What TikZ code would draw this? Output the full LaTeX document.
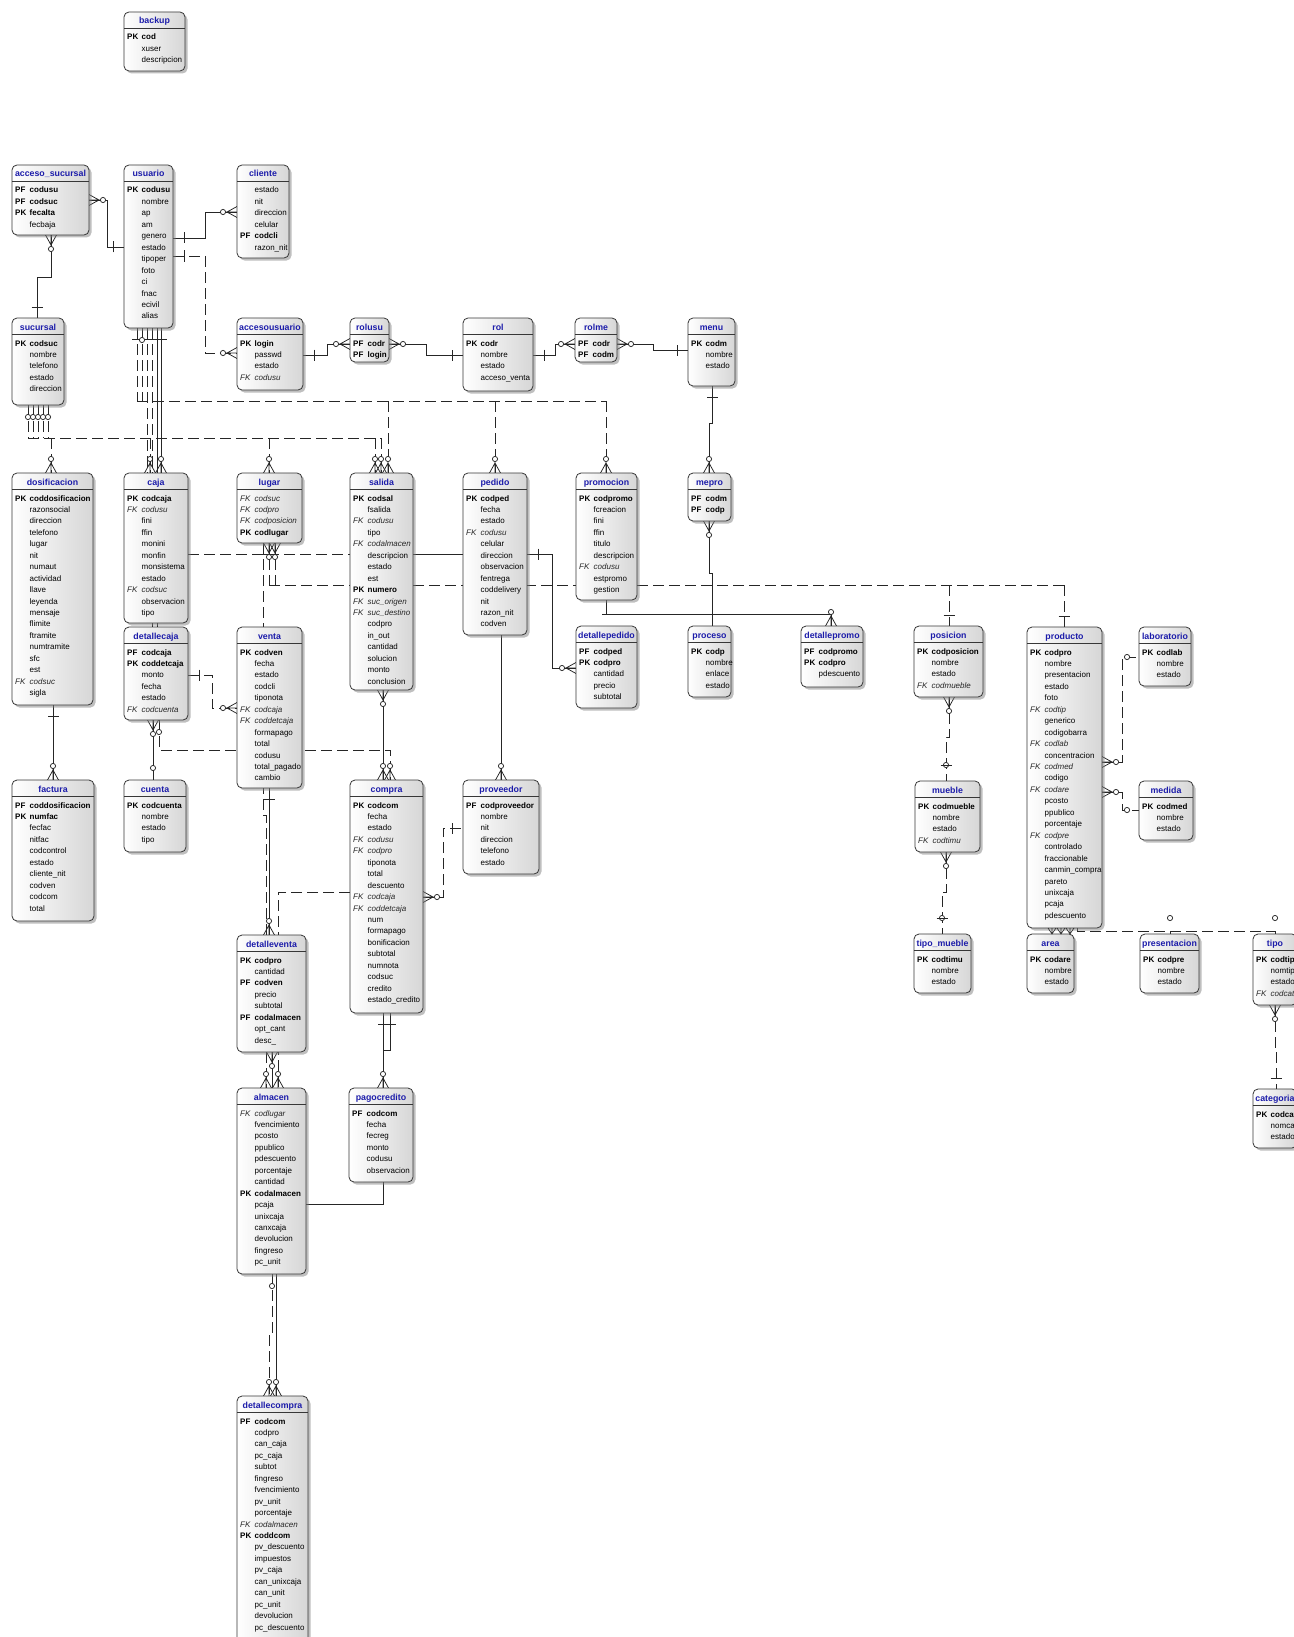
\documentclass[tikz,border=0pt]{standalone}
\usepackage{fontspec}
\setmainfont{Liberation Sans}
\usetikzlibrary{calc,shadows}
\pgfdeclarelayer{back}\pgfdeclarelayer{bg}
\pgfsetlayers{back,bg,main}
\definecolor{hdr}{RGB}{28,28,170}
\definecolor{bx}{RGB}{55,55,55}
\newcommand\rowf{\fontsize{8}{9.6}\selectfont}
\newcommand\hdrf{\fontsize{8.8}{10}\selectfont\bfseries}
\def\ktPK{PK}\def\ktPF{PF}\def\ktFK{FK}\def\ktN{}
\tikzset{
  x=1pt, y=-1pt,
  conn/.style={line width=0.75pt, draw=black!85},
  dsh/.style={conn, dash pattern=on 11pt off 5pt},
  entbox/.style={draw=bx, line width=0.8pt, rounded corners=5pt, left color=white, right color=black!16,
     drop shadow={shadow xshift=2.5pt, shadow yshift=-2.5pt, fill=black!50, opacity=0.5}, inner sep=0pt, outer sep=0pt},
  sepline/.style={draw=bx, line width=0.7pt},
  ttl/.style={font=\hdrf, text=hdr, anchor=base, inner sep=0pt},
  k-PK/.style={font=\rowf\bfseries},
  k-PF/.style={font=\rowf\bfseries},
  k-FK/.style={font=\rowf\itshape, text=black!85},
  k-N/.style={font=\rowf},
  rowtxt/.style={anchor=base west, inner sep=0pt},
  crwo/.pic={\draw[conn] (0,-5.5)--(10,0)--(0,5.5) (0,0)--(11.4,0); \draw[conn, fill=white] (14,0) circle[radius=2.6];},
  crw/.pic={\draw[conn] (0,-5.5)--(10,0)--(0,5.5) (0,0)--(10,0);},
  br/.pic={\draw[conn] (11,-5.5)--(11,5.5);},
  zo/.pic={\draw[conn, fill=white] (12,0) circle[radius=2.6];},
  zoh/.pic={\draw[conn, fill=white] (16,0) circle[radius=2.6];},
  zb/.pic={\draw[conn, fill=white] (16,0) circle[radius=2.6]; \draw[conn] (16,-5.5)--(16,5.5);},
}
\newcommand\dec[3]{\pic[rotate=#1] at #2 {#3};}
\newcommand\ent[7]{%
  \pgfmathsetmacro\eW{#4-#2}\pgfmathsetmacro\eH{#5-#3}%
  \node[entbox, minimum width=\eW pt, minimum height=\eH pt] (#1) at ({(#2+#4)/2},{(#3+#5)/2}) {};
  \node[ttl] (#1-t) at ({(#2+#4)/2},#3+12) {#6};
  \draw[sepline] ($(#1.north west)+(0,16)$) -- ($(#1.north east)+(0,16)$);
  \foreach \kk/\nm [count=\i] in {#7} {
    \pgfmathsetmacro\yy{#3+28+(\i-1)*11.45}
    \node[rowtxt, k-\kk] (#1-k\i) at (#2+3,\yy) {\csname kt\kk\endcsname};
    \node[rowtxt, k-\kk] (#1-r\i) at (#2+17.5,\yy) {\nm};
  }
}
\begin{document}
\begin{tikzpicture}
\useasboundingbox (0,0) rectangle (1293,1637);
\begin{pgfonlayer}{back}\fill[white] (0,0) rectangle (1293,1637);\end{pgfonlayer}

\ent{backup}{124}{12}{185}{71}{backup}{PK/cod, N/xuser, N/descripcion}
\ent{accesosuc}{12}{165}{89}{235}{acceso\_sucursal}{PF/codusu, PF/codsuc, PK/fecalta, N/fecbaja}
\ent{usuario}{124}{165}{173}{328}{usuario}{PK/codusu, N/nombre, N/ap, N/am, N/genero, N/estado, N/tipoper, N/foto, N/ci, N/fnac, N/ecivil, N/alias}
\ent{cliente}{237}{165}{289}{258}{cliente}{N/estado, N/nit, N/direccion, N/celular, PF/codcli, N/razon\_nit}
\ent{sucursal}{12}{318}{64}{405}{sucursal}{PK/codsuc, N/nombre, N/telefono, N/estado, N/direccion}
\ent{accesousuario}{237}{318}{303}{390}{accesousuario}{PK/login, N/passwd, N/estado, FK/codusu}
\ent{rolusu}{350}{318}{389}{362}{rolusu}{PF/codr, PF/login}
\ent{rol}{463}{318}{533}{391}{rol}{PK/codr, N/nombre, N/estado, N/acceso\_venta}
\ent{rolme}{575}{318}{617}{362}{rolme}{PF/codr, PF/codm}
\ent{menu}{688}{318}{735}{386}{menu}{PK/codm, N/nombre, N/estado}
\ent{dosificacion}{12}{473}{93}{705}{dosificacion}{PK/coddosificacion, N/razonsocial, N/direccion, N/telefono, N/lugar, N/nit, N/numaut, N/actividad, N/llave, N/leyenda, N/mensaje, N/flimite, N/ftramite, N/numtramite, N/sfc, N/est, FK/codsuc, N/sigla}
\ent{caja}{124}{473}{188}{623}{caja}{PK/codcaja, FK/codusu, N/fini, N/ffin, N/monini, N/monfin, N/monsistema, N/estado, FK/codsuc, N/observacion, N/tipo}
\ent{lugar}{237}{473}{302}{543}{lugar}{FK/codsuc, FK/codpro, FK/codposicion, PK/codlugar}
\ent{salida}{350}{473}{413}{690}{salida}{PK/codsal, N/fsalida, FK/codusu, N/tipo, FK/codalmacen, N/descripcion, N/estado, N/est, PK/numero, FK/suc\_origen, FK/suc\_destino, N/codpro, N/in\_out, N/cantidad, N/solucion, N/monto, N/conclusion}
\ent{pedido}{463}{473}{527}{635}{pedido}{PK/codped, N/fecha, N/estado, FK/codusu, N/celular, N/direccion, N/observacion, N/fentrega, N/coddelivery, N/nit, N/razon\_nit, N/codven}
\ent{promocion}{576}{473}{637}{600}{promocion}{PK/codpromo, N/fcreacion, N/fini, N/ffin, N/titulo, N/descripcion, FK/codusu, N/estpromo, N/gestion}
\ent{mepro}{688}{473}{731}{521}{mepro}{PF/codm, PF/codp}
\ent{detallecaja}{124}{627}{188}{720}{detallecaja}{PF/codcaja, PK/coddetcaja, N/monto, N/fecha, N/estado, FK/codcuenta}
\ent{venta}{237}{627}{302}{788}{venta}{PK/codven, N/fecha, N/estado, N/codcli, N/tiponota, FK/codcaja, FK/coddetcaja, N/formapago, N/total, N/codusu, N/total\_pagado, N/cambio}
\ent{detallepedido}{576}{626}{637}{708}{detallepedido}{PF/codped, PK/codpro, N/cantidad, N/precio, N/subtotal}
\ent{proceso}{688}{626}{731}{697}{proceso}{PK/codp, N/nombre, N/enlace, N/estado}
\ent{detallepromo}{801}{626}{863}{687}{detallepromo}{PF/codpromo, PK/codpro, N/pdescuento}
\ent{posicion}{914}{626}{983}{697}{posicion}{PK/codposicion, N/nombre, N/estado, FK/codmueble}
\ent{producto}{1027}{627}{1102}{928}{producto}{PK/codpro, N/nombre, N/presentacion, N/estado, N/foto, FK/codtip, N/generico, N/codigobarra, FK/codlab, N/concentracion, FK/codmed, N/codigo, FK/codare, N/pcosto, N/ppublico, N/porcentaje, FK/codpre, N/controlado, N/fraccionable, N/canmin\_compra, N/pareto, N/unixcaja, N/pcaja, N/pdescuento}
\ent{laboratorio}{1139}{627}{1191}{686}{laboratorio}{PK/codlab, N/nombre, N/estado}
\ent{medida}{1139}{781}{1193}{840}{medida}{PK/codmed, N/nombre, N/estado}
\ent{factura}{12}{780}{94}{921}{factura}{PF/coddosificacion, PK/numfac, N/fecfac, N/nitfac, N/codcontrol, N/estado, N/cliente\_nit, N/codven, N/codcom, N/total}
\ent{cuenta}{124}{780}{186}{852}{cuenta}{PK/codcuenta, N/nombre, N/estado, N/tipo}
\ent{compra}{350}{780}{423}{1013}{compra}{PK/codcom, N/fecha, N/estado, FK/codusu, FK/codpro, N/tiponota, N/total, N/descuento, FK/codcaja, FK/coddetcaja, N/num, N/formapago, N/bonificacion, N/subtotal, N/numnota, N/codsuc, N/credito, N/estado\_credito}
\ent{proveedor}{463}{780}{539}{874}{proveedor}{PF/codproveedor, N/nombre, N/nit, N/direccion, N/telefono, N/estado}
\ent{mueble}{915}{781}{980}{852}{mueble}{PK/codmueble, N/nombre, N/estado, FK/codtimu}
\ent{tipomueble}{914}{934}{971}{993}{tipo\_mueble}{PK/codtimu, N/nombre, N/estado}
\ent{area}{1027}{934}{1074}{993}{area}{PK/codare, N/nombre, N/estado}
\ent{presentacion}{1140}{934}{1199}{993}{presentacion}{PK/codpre, N/nombre, N/estado}
\ent{tipo}{1253}{934}{1297}{1005}{tipo}{PK/codtip, N/nomtipo, N/estado, FK/codcat}
\ent{categoria}{1253}{1089}{1297}{1148}{categoria}{PK/codcat, N/nomcat, N/estado}
\ent{detalleventa}{237}{935}{306}{1052}{detalleventa}{PK/codpro, N/cantidad, PF/codven, N/precio, N/subtotal, PF/codalmacen, N/opt\_cant, N/desc\_}
\ent{almacen}{237}{1088}{306}{1274}{almacen}{FK/codlugar, N/fvencimiento, N/pcosto, N/ppublico, N/pdescuento, N/porcentaje, N/cantidad, PK/codalmacen, N/pcaja, N/unixcaja, N/canxcaja, N/devolucion, N/fingreso, N/pc\_unit}
\ent{pagocredito}{349}{1088}{413}{1182}{pagocredito}{PF/codcom, N/fecha, N/fecreg, N/monto, N/codusu, N/observacion}
\ent{detallecompra}{237}{1396}{308}{1642}{detallecompra}{PF/codcom, N/codpro, N/can\_caja, N/pc\_caja, N/subtot, N/fingreso, N/fvencimiento, N/pv\_unit, N/porcentaje, FK/codalmacen, PK/coddcom, N/pv\_descuento, N/impuestos, N/pv\_caja, N/can\_unixcaja, N/can\_unit, N/pc\_unit, N/devolucion, N/pc\_descuento}

% small crows between producto and area
\foreach \x in {1052,1061,1070} {\draw[conn, line width=0.6pt] (\x-4,928) -- (\x,934) -- (\x+4,928) (\x,928) -- (\x,934);}

\begin{pgfonlayer}{bg}
% acceso_sucursal - usuario
\draw[conn] (accesosuc.east |- 0,200) -- (107,200) |- (usuario.west |- 0,247);
\dec{0}{(accesosuc.east |- 0,200)}{crwo} \dec{180}{(usuario.west |- 0,247)}{br}
% acceso_sucursal - sucursal
\draw[conn] (accesosuc.south -| 51,0) -- (51,277) -| (sucursal.north -| 37,0);
\dec{-90}{(accesosuc.south -| 51,0)}{crwo} \dec{90}{(sucursal.north -| 37,0)}{br}
% usuario - cliente
\draw[conn] (usuario.east |- 0,238) -- (205,238) |- (cliente.west |- 0,212);
\dec{0}{(usuario.east |- 0,238)}{br} \dec{180}{(cliente.west |- 0,212)}{crwo}
% usuario - accesousuario
\draw[dsh] (usuario.east |- 0,256) -- (205,256) |- (accesousuario.west |- 0,353);
\dec{0}{(usuario.east |- 0,256)}{br} \dec{180}{(accesousuario.west |- 0,353)}{crwo}
% accesousuario - rolusu
\draw[conn] (accesousuario.east |- 0,355) -- (327,355) |- (rolusu.west |- 0,344);
\dec{0}{(accesousuario.east |- 0,355)}{br} \dec{180}{(rolusu.west |- 0,344)}{crwo}
% rolusu - rol
\draw[conn] (rolusu.east |- 0,344) -- (426,344) |- (rol.west |- 0,355);
\dec{0}{(rolusu.east |- 0,344)}{crwo} \dec{180}{(rol.west |- 0,355)}{br}
% rol - rolme
\draw[conn] (rol.east |- 0,355) -- (555,355) |- (rolme.west |- 0,344);
\dec{0}{(rol.east |- 0,355)}{br} \dec{180}{(rolme.west |- 0,344)}{crwo}
% rolme - menu
\draw[conn] (rolme.east |- 0,344) -- (653,344) |- (menu.west |- 0,350);
\dec{0}{(rolme.east |- 0,344)}{crwo} \dec{180}{(menu.west |- 0,350)}{br}
% menu - mepro
\draw[conn] (menu.south -| 712,0) -- (712,423) -- (709,423) -- (mepro.north -| 709,0);
\dec{-90}{(menu.south -| 712,0)}{br} \dec{90}{(mepro.north -| 709,0)}{crwo}
% mepro - proceso
\draw[conn] (mepro.south -| 709,0) -- (709,573) -- (712,573) -- (proceso.north -| 712,0);
\dec{-90}{(mepro.south -| 709,0)}{crwo}
% promocion - detallepromo
\draw[conn] (promocion.south -| 606,0) -- (606,614) (602,614) -| (detallepromo.north -| 831,0);
\dec{90}{(detallepromo.north -| 831,0)}{crwo}
% pedido - detallepedido
\draw[conn] (pedido.east |- 0,554) -- (552,554) |- (detallepedido.west |- 0,668);
\dec{0}{(pedido.east |- 0,554)}{br} \dec{180}{(detallepedido.west |- 0,668)}{crwo}
% caja / salida / pedido row line
\draw[dsh] (caja.east |- 0,554) -- (salida.west |- 0,554);
\draw[conn] (salida.east |- 0,554) -- (pedido.west |- 0,554);
% lugar
\draw[dsh] (lugar.south -| 263,0) -- (263,815) -- (266,815) -- (almacen.north -| 266,0);
\dec{-90}{(lugar.south -| 263,0)}{br} \dec{90}{(almacen.north -| 266,0)}{crwo}
\draw[dsh] (lugar.south -| 269,0) -- (269,585);
\draw[dsh] (lugar.south -| 275,0) -- (275,585);
\draw[dsh] (269,585) -- (1064,585);
\draw[dsh] (949,585) -- (posicion.north -| 949,0);
\draw[dsh] (1064,585) -- (producto.north -| 1064,0);
\dec{-90}{(lugar.south -| 269,0)}{crwo} \dec{-90}{(lugar.south -| 275,0)}{crwo}
\dec{90}{(posicion.north -| 949,0)}{br} \dec{90}{(producto.north -| 1064,0)}{br}
% sucursal hub
\foreach \x in {28,33,38,43,48} {\draw[dsh] (sucursal.south -| \x,0) -- (\x,438); \dec{-90}{(sucursal.south -| \x,0)}{zo}}
\draw[dsh] (28,438) -- (381,438);
\foreach \x/\e in {51/dosificacion, 150/caja, 269/lugar, 375/salida, 381/salida} {\draw[dsh] (\x,438) -- (\e.north -| \x,0); \dec{90}{(\e.north -| \x,0)}{crwo}}
% usuario hub
\foreach \x in {137,142,147,152,157,161} {\dec{-90}{(usuario.south -| \x,0)}{br}}
\draw[dsh] (usuario.south -| 137,0) -- (137,401);
\draw[dsh] (usuario.south -| 142,0) -- (142,401);
\draw[dsh] (137,401) -- (606,401);
\foreach \x/\e in {388/salida, 495/pedido, 606/promocion} {\draw[dsh] (\x,401) -- (\e.north -| \x,0); \dec{90}{(\e.north -| \x,0)}{crwo}}
\draw[dsh] (usuario.south -| 147,0) -- (caja.north -| 147,0);
\draw[dsh] (usuario.south -| 152,0) -- (detallecaja.north -| 152,0);
\draw[conn] (usuario.south -| 157,0) -- (detallecaja.north -| 157,0);
\draw[conn] (usuario.south -| 161,0) -- (caja.north -| 161,0);
\dec{90}{(caja.north -| 161,0)}{crwo}
\dec{-90}{(usuario.south -| 142,0)}{zo}
% dosificacion - factura
\draw[conn] (dosificacion.south -| 53,0) -- (factura.north -| 53,0);
\dec{-90}{(dosificacion.south -| 53,0)}{br} \dec{90}{(factura.north -| 53,0)}{crwo}
% detallecaja - venta
\draw[dsh] (detallecaja.east |- 0,675) -- (212,675) |- (venta.west |- 0,708);
\dec{0}{(detallecaja.east |- 0,675)}{br} \dec{180}{(venta.west |- 0,708)}{crwo}
% detallecaja - cuenta
\draw[conn] (detallecaja.south -| 153,0) -- (cuenta.north -| 153,0);
\dec{-90}{(detallecaja.south -| 153,0)}{crwo} \dec{90}{(cuenta.north -| 153,0)}{zo}
% detallecaja - compra
\draw[dsh] (detallecaja.south -| 159,0) -- (159,750) -| (compra.north -| 390,0);
\dec{-90}{(detallecaja.south -| 159,0)}{zo} \dec{90}{(compra.north -| 390,0)}{crwo}
% salida - compra
\draw[conn] (salida.south -| 383,0) -- (compra.north -| 383,0);
\dec{-90}{(salida.south -| 383,0)}{crwo} \dec{90}{(compra.north -| 383,0)}{crwo}
% venta - detalleventa
\draw[conn] (venta.south -| 269,0) -- (detalleventa.north -| 269,0);
\dec{-90}{(venta.south -| 269,0)}{br} \dec{90}{(detalleventa.north -| 269,0)}{crwo}
% compra - almacen
\draw[dsh] (compra.west |- 0,892) -- (278,892) -- (almacen.north -| 278,0);
\dec{90}{(almacen.north -| 278,0)}{crwo}
% detalleventa - almacen
\draw[conn] (detalleventa.south -| 272,0) -- (almacen.north -| 272,0);
\dec{-90}{(detalleventa.south -| 272,0)}{crwo}
% compra - proveedor
\draw[dsh] (compra.east |- 0,897) -- (443,897) |- (proveedor.west |- 0,828);
\dec{0}{(compra.east |- 0,897)}{crwo} \dec{180}{(proveedor.west |- 0,828)}{br}
% pedido - proveedor
\draw[conn] (pedido.south -| 501,0) -- (proveedor.north -| 501,0);
\dec{90}{(proveedor.north -| 501,0)}{crwo}
% compra - pagocredito
\draw[conn] (compra.south -| 390,0) -- (390,1050) -- (383,1050) -- (pagocredito.north -| 383,0);
\draw[conn] (compra.south -| 383,0) -- (383,1050);
\dec{-90}{(compra.south -| 383,0)}{br} \dec{-90}{(compra.south -| 390,0)}{br}
\dec{90}{(pagocredito.north -| 383,0)}{crwo}
% pagocredito - almacen
\draw[conn] (pagocredito.south -| 383,0) -- (383,1204) -- (almacen.east |- 0,1204);
% almacen - detallecompra
\draw[dsh] (almacen.south -| 272,0) -- (272,1333) -- (269,1333) -- (detallecompra.north -| 269,0);
\dec{-90}{(almacen.south -| 272,0)}{zo} \dec{90}{(detallecompra.north -| 269,0)}{crwo}
\draw[conn] (almacen.south -| 276,0) -- (detallecompra.north -| 276,0);
\dec{90}{(detallecompra.north -| 276,0)}{crwo}
% producto - laboratorio / medida
\draw[dsh] (producto.east |- 0,762) -- (1122,762) |- (laboratorio.west |- 0,657);
\dec{0}{(producto.east |- 0,762)}{crwo} \dec{180}{(laboratorio.west |- 0,657)}{zo}
\draw[dsh] (producto.east |- 0,792) -- (1122,792) |- (medida.west |- 0,810);
\dec{0}{(producto.east |- 0,792)}{crwo} \dec{180}{(medida.west |- 0,810)}{zo}
% producto - presentacion / tipo
\draw[dsh] (producto.south -| 1077,0) -- (1077,931) -- (1275,931);
\draw[conn] (1170,931) -- (presentacion.north -| 1170,0);
\draw[conn] (1275,931) -- (tipo.north -| 1275,0);
\dec{90}{(presentacion.north -| 1170,0)}{zoh} \dec{90}{(tipo.north -| 1275,0)}{zoh}
% posicion - mueble - tipo_mueble
\draw[dsh] (posicion.south -| 949,0) -- (949,737) -- (946,737) -- (mueble.north -| 946,0);
\dec{-90}{(posicion.south -| 949,0)}{crwo} \dec{90}{(mueble.north -| 946,0)}{zb}
\draw[dsh] (mueble.south -| 946,0) -- (946,892) -- (942,892) -- (tipomueble.north -| 942,0);
\dec{-90}{(mueble.south -| 946,0)}{crwo} \dec{90}{(tipomueble.north -| 942,0)}{zb}
% tipo - categoria
\draw[dsh] (tipo.south -| 1275,0) -- (1275,1050) -- (1276,1050) -- (categoria.north -| 1276,0);
\dec{-90}{(tipo.south -| 1275,0)}{crwo} \dec{90}{(categoria.north -| 1276,0)}{br}
\end{pgfonlayer}
\end{tikzpicture}
\end{document}
